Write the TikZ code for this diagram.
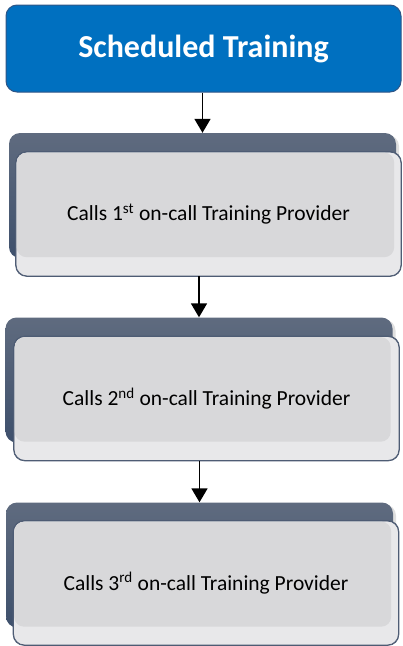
\documentclass[tikz,border=0pt]{standalone}
\usepackage{fontspec}
\setmainfont{Carlito}
\usetikzlibrary{arrows.meta}
\usetikzlibrary{shadows}
\definecolor{titleblue}{RGB}{0,112,192}
\definecolor{titleedge}{RGB}{47,86,135}
\definecolor{slatetop}{RGB}{95,107,127}
\definecolor{slatebot}{RGB}{62,80,108}
\definecolor{cardgray}{RGB}{216,216,218}
\definecolor{cardlight}{RGB}{232,232,234}
\definecolor{cardedge}{RGB}{78,92,116}
\tikzset{
  titlebox/.style={draw=titleedge, line width=1pt, fill=titleblue, rounded corners=11pt,
    minimum width=395pt, minimum height=87pt, text=white, font=\bfseries\fontsize{32}{38}\selectfont},
  backcard/.style={rounded corners=11pt, top color=slatetop, bottom color=slatebot,
    minimum width=387pt, minimum height=125pt, drop shadow={shadow xshift=3pt, shadow yshift=-2pt, opacity=.25}},
  frontcard/.style={draw=cardedge, line width=.8pt, fill=cardlight, rounded corners=11pt,
    minimum width=385pt, minimum height=124pt},
  cardtext/.style={font=\fontsize{21.5}{26}\selectfont},
  flow/.style={line width=1.8pt, -{Triangle[width=16pt,length=14pt]}}
}
\newcommand{\card}[5]{% back x, back y, front x, front y, name
  \node[backcard] (back#5) at (#1,#2) {};
  \node[frontcard] (#5) at (#3,#4) {};
  \fill[cardgray, rounded corners=10pt] ([shift={(1pt,-1pt)}]#5.north west) rectangle ([shift={(-2pt,1pt)}]back#5.south east);
  \draw[cardedge, line width=.8pt, rounded corners=11pt] (#5.north west) rectangle (#5.south east);
}

\begin{document}
\begin{tikzpicture}[x=1pt, y=-1pt]
  \useasboundingbox (0,0) rectangle (403,646);
  \node[titlebox] (sched) at (203.5,48.5) {Scheduled Training};
  % the three on-call calls
  \card{202.5}{195.5}{208.5}{214}{call1}
  \card{199}{380}{206.5}{398.5}{call2}
  \card{199.5}{565}{206}{583}{call3}
  \node[cardtext] (txt1) at (call1) {Calls 1\textsuperscript{st} on-call Training Provider};
  \node[cardtext] (txt2) at (call2) {Calls 2\textsuperscript{nd} on-call Training Provider};
  \node[cardtext] (txt3) at (call3) {Calls 3\textsuperscript{rd} on-call Training Provider};
  \draw[flow] (sched.south -| backcall1.north) -- (backcall1.north);
  \draw[flow] (call1.south -| backcall2.north) -- (backcall2.north);
  \draw[flow] (call2.south -| backcall3.north) -- (backcall3.north);
\end{tikzpicture}
\end{document}
